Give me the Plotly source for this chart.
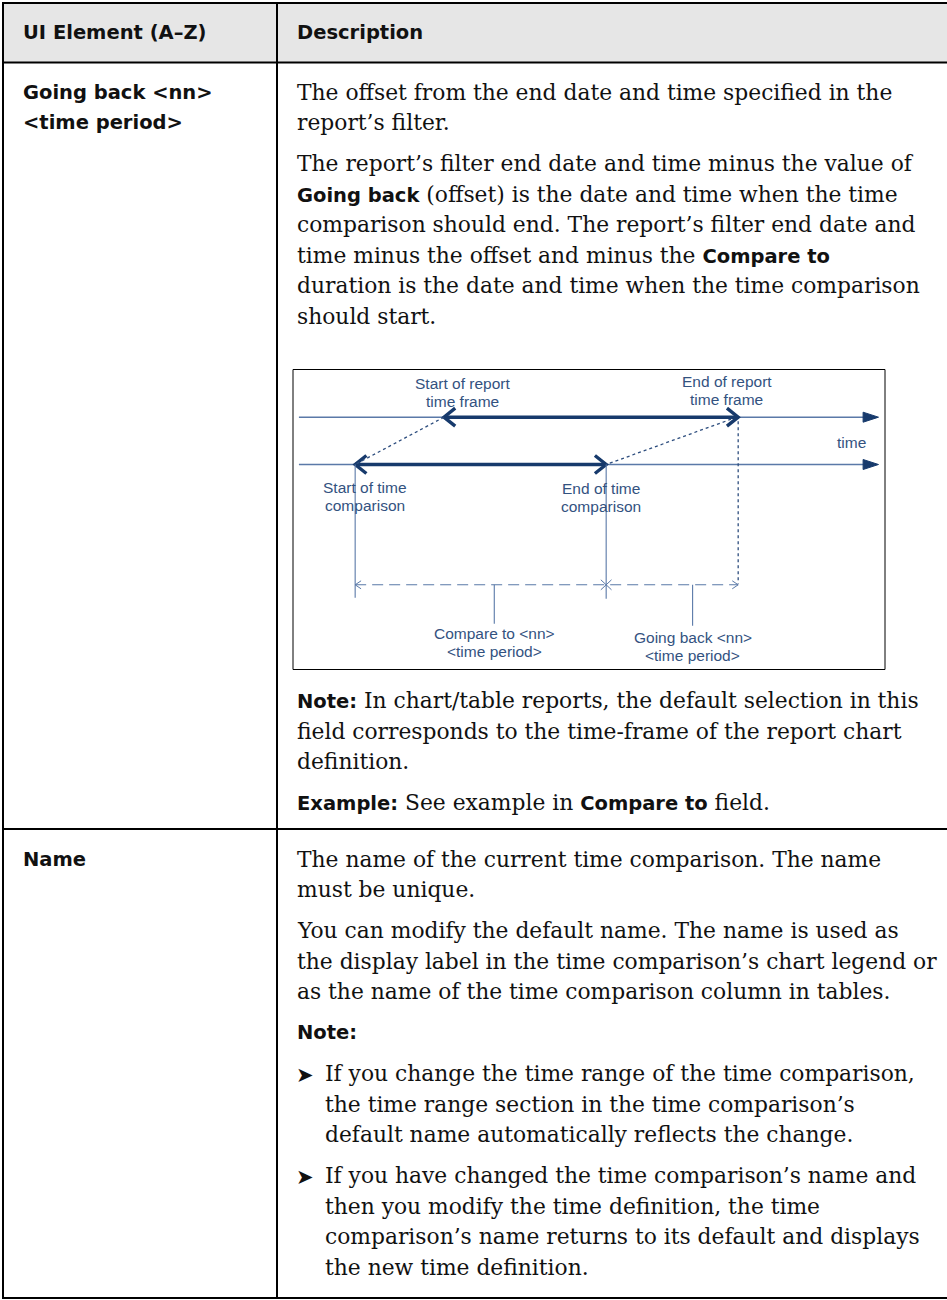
import plotly.graph_objects as go

W, H = 947, 1300

# ---------------- data ----------------
header_labels = ["UI Element (A–Z)", "Description"]
row_elements = [["Going back &lt;nn&gt;", "&lt;time period&gt;"], ["Name"]]

# diagram time points (schematic time units along the time axes)
axis_time = [1.0, 98.9]          # start / arrow tip of both time axes
report_frame = [25.5, 75.2]      # start / end of report time frame
comparison = [10.5, 52.9]        # start / end of time comparison
label_compare_to_t = 34.0        # where the "Compare to" leader sits
label_going_back_t = 67.5        # where the "Going back" leader sits

diagram_labels = {
    "report_start": ["Start of report", "time frame"],
    "report_end": ["End of report", "time frame"],
    "cmp_start": ["Start of time", "comparison"],
    "cmp_end": ["End of time", "comparison"],
    "compare_to": ["Compare to &lt;nn&gt;", "&lt;time period&gt;"],
    "going_back": ["Going back &lt;nn&gt;", "&lt;time period&gt;"],
    "axis": "time",
}


def B(s):
    return ('<b><span style="font-family:DejaVu Sans;font-size:19.5px">'
            + s + '</span></b>')


row1_blocks = [
    ("p", ["The offset from the end date and time specified in the",
           "report’s filter."]),
    ("p", ["The report’s filter end date and time minus the value of",
           B("Going back") + " (offset) is the date and time when the time",
           "comparison should end. The report’s filter end date and",
           "time minus the offset and minus the " + B("Compare to"),
           "duration is the date and time when the time comparison",
           "should start."]),
    ("diagram", None),
    ("p", [B("Note:") + " In chart/table reports, the default selection in this",
           "field corresponds to the time-frame of the report chart",
           "definition."]),
    ("p", [B("Example:") + " See example in " + B("Compare to") + " field."]),
]

row2_blocks = [
    ("p", ["The name of the current time comparison. The name",
           "must be unique."]),
    ("p", ["You can modify the default name. The name is used as",
           "the display label in the time comparison’s chart legend or",
           "as the name of the time comparison column in tables."]),
    ("p", [B("Note:")]),
    ("bullet", ["If you change the time range of the time comparison,",
                "the time range section in the time comparison’s",
                "default name automatically reflects the change."]),
    ("bullet", ["If you have changed the time comparison’s name and",
                "then you modify the time definition, the time",
                "comparison’s name returns to its default and displays",
                "the new time definition."]),
]

# ---------------- layout constants ----------------
TL, TR, TT, TB = 3, 948, 3, 1298
COL_X = 277
HEADER_BOTTOM = 62.5
ROW_DIV = 829
LEFT_TX = 21
RIGHT_TX = 295
BULLET_TX = 323
STEP = 30.5
GAP = 10.5
SERIF = "DejaVu Serif"
SANS = "DejaVu Sans"
BODY_SIZE = 21.8
SANS_SIZE = 19.5
TXT = "#111111"

ann = []
shapes = []


def text(x, y, s, size=BODY_SIZE, family=SERIF, color=TXT, anchor="left",
         xref="x", yref="y", bold=False):
    ann.append(dict(x=x, y=y, xref=xref, yref=yref,
                    text=("<b>" + s + "</b>") if bold else s,
                    showarrow=False, xanchor=anchor, yanchor="middle",
                    font=dict(family=family, size=size, color=color)))


# header background and borders
shapes.append(dict(type="rect", xref="x", yref="y", x0=TL, x1=TR, y0=TT,
                   y1=HEADER_BOTTOM, fillcolor="#e6e6e6", line=dict(width=0),
                   layer="below"))
line_style = dict(color="#000000", width=2)
shapes += [
    dict(type="rect", xref="x", yref="y", x0=TL, x1=TR, y0=TT, y1=TB,
         line=line_style),
    dict(type="line", xref="x", yref="y", x0=TL, x1=TR, y0=HEADER_BOTTOM,
         y1=HEADER_BOTTOM, line=line_style),
    dict(type="line", xref="x", yref="y", x0=TL, x1=TR, y0=ROW_DIV,
         y1=ROW_DIV, line=line_style),
    dict(type="line", xref="x", yref="y", x0=COL_X, x1=COL_X, y0=TT, y1=TB,
         line=line_style),
]

text(LEFT_TX, 32.5, header_labels[0], size=SANS_SIZE, family=SANS, bold=True)
text(RIGHT_TX, 32.5, header_labels[1], size=SANS_SIZE, family=SANS, bold=True)

diagram_box = None


def lay_row(y0, blocks, elem):
    global diagram_box
    for i, s in enumerate(elem):
        text(LEFT_TX, y0 + i * STEP, s, size=SANS_SIZE, family=SANS, bold=True)
    y = y0
    for kind, lines in blocks:
        if kind == "diagram":
            top = y - STEP - GAP + 53.5
            diagram_box = (top, top + 300)
            y = top + 300 + 31
            continue
        for j, s in enumerate(lines):
            if kind == "bullet":
                if j == 0:
                    text(RIGHT_TX - 1, y + 1, "➤", size=21, family=SANS)
                text(BULLET_TX, y, s)
            else:
                text(RIGHT_TX, y, s)
            y += STEP
        y += GAP


lay_row(92, row1_blocks, row_elements[0])
lay_row(ROW_DIV + 30, row2_blocks, row_elements[1])

# ---------------- diagram ----------------
BX0, BX1 = 293, 885
BY0, BY1 = diagram_box
shapes.append(dict(type="rect", xref="x", yref="y", x0=BX0, x1=BX1, y0=BY0,
                   y1=BY1, line=dict(color="#000000", width=1)))

Y_R, Y_C, Y_DIM = 47.7, 95.0, 215.3   # lane positions inside the box (px)
THIN = "#5a79a8"
NAVY = "#173a6c"
DOT = "#2d4d7e"
DTXT = "#33527f"

traces = []


def seg(xs, ys, color, width, dash="solid", fill=None):
    traces.append(go.Scatter(x=xs, y=ys, mode="lines", xaxis="x2", yaxis="y2",
                             line=dict(color=color, width=width, dash=dash),
                             fill=fill, fillcolor=color if fill else None,
                             hoverinfo="skip", showlegend=False))


t0, tip = axis_time
for yl in (Y_R, Y_C):
    seg([t0, tip - 2.0], [yl, yl], THIN, 1.6)
    seg([tip - 2.6, tip, tip - 2.6, tip - 2.6], [yl - 5, yl, yl + 5, yl - 5],
        NAVY, 1, fill="toself")

# thick double-headed arrows
for (a, b), yl in ((report_frame, Y_R), (comparison, Y_C)):
    seg([a, b], [yl, yl], NAVY, 3.6)
    seg([a + 1.9, a, a + 1.9], [yl - 9, yl, yl + 9], NAVY, 3.4)
    seg([b - 1.9, b, b - 1.9], [yl - 9, yl, yl + 9], NAVY, 3.4)

rs, re_ = report_frame
cs, ce = comparison
# dotted connectors
seg([rs, cs], [Y_R, Y_C], DOT, 1.3, dash="dot")
seg([re_ - 1.2, ce], [Y_R + 2, Y_C], DOT, 1.3, dash="dot")
seg([re_, re_], [Y_R + 4, Y_DIM - 1], DOT, 1.3, dash="dot")

# extension lines
seg([cs, cs], [Y_C, Y_DIM + 13], THIN, 1.1)
seg([ce, ce], [Y_C, Y_DIM + 14], THIN, 1.1)

# dimension line
seg([cs, re_], [Y_DIM, Y_DIM], THIN, 1.1, dash="11px,6px")
seg([cs + 1.0, cs, cs + 1.0], [Y_DIM - 4, Y_DIM, Y_DIM + 4], THIN, 1.0)
seg([re_ - 1.0, re_, re_ - 1.0], [Y_DIM - 4, Y_DIM, Y_DIM + 4], THIN, 1.0)
seg([ce - 0.9, ce + 0.9], [Y_DIM - 5, Y_DIM + 5], THIN, 1.0)
seg([ce - 0.9, ce + 0.9], [Y_DIM + 5, Y_DIM - 5], THIN, 1.0)

# leaders
seg([label_compare_to_t] * 2, [Y_DIM, Y_DIM + 39], THIN, 1.1)
seg([label_going_back_t] * 2, [Y_DIM, Y_DIM + 41], THIN, 1.1)

DSIZE = 15.5
DFONT = "Liberation Sans"


def dlabel(t, y, lines):
    for k, s in enumerate(lines):
        text(t, y + k * 18.3, s, size=DSIZE, family=DFONT, color=DTXT,
             anchor="center", xref="x2", yref="y2")


dlabel(rs + 3.2, 13.7, diagram_labels["report_start"])
dlabel(re_ - 1.9, 11.7, diagram_labels["report_end"])
dlabel(cs + 1.7, 117.7, diagram_labels["cmp_start"])
dlabel(ce - 0.8, 118.7, diagram_labels["cmp_end"])
dlabel(label_compare_to_t, 263.7, diagram_labels["compare_to"])
dlabel(label_going_back_t, 267.7, diagram_labels["going_back"])
text(94.3, 72.7, diagram_labels["axis"], size=DSIZE, family=DFONT,
     color=DTXT, anchor="center", xref="x2", yref="y2")

fig = go.Figure(traces)
fig.update_layout(
    width=W, height=H, margin=dict(l=0, r=0, t=0, b=0),
    paper_bgcolor="white", plot_bgcolor="rgba(0,0,0,0)",
    showlegend=False, hovermode=False,
    xaxis=dict(range=[0, W], domain=[0, 1], visible=False, fixedrange=True),
    yaxis=dict(range=[H, 0], domain=[0, 1], visible=False, fixedrange=True),
    xaxis2=dict(range=[0, 100], domain=[BX0 / W, BX1 / W], anchor="y2",
                visible=False, fixedrange=True),
    yaxis2=dict(range=[300, 0], domain=[1 - BY1 / H, 1 - BY0 / H],
                anchor="x2", visible=False, fixedrange=True),
    shapes=shapes, annotations=ann,
)
fig.write_html("out.html", config={"displayModeBar": False},
               post_script="document.body.style.margin='0';"
                           "document.body.style.padding='0';")
